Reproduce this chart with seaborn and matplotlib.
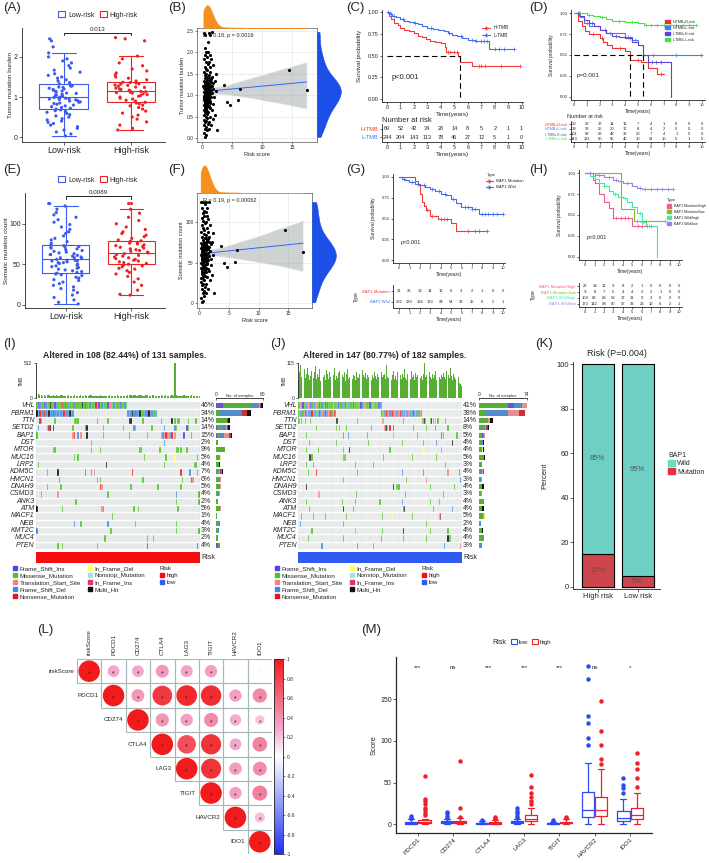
import numpy as np
import pandas as pd
import matplotlib
matplotlib.use('Agg')
import matplotlib.pyplot as plt
import seaborn as sns
from matplotlib.colors import ListedColormap, LinearSegmentedColormap, Normalize
from matplotlib.cm import ScalarMappable
from matplotlib.lines import Line2D
from matplotlib.patches import Patch, Rectangle

sns.set_theme(style='ticks')
plt.rcParams['font.family'] = ['Liberation Sans', 'DejaVu Sans']
plt.rcParams['axes.linewidth'] = 0.6
plt.rcParams['xtick.major.size'] = 2
plt.rcParams['ytick.major.size'] = 2
plt.rcParams['xtick.major.width'] = 0.5
plt.rcParams['ytick.major.width'] = 0.5
plt.rcParams['xtick.major.pad'] = 1
plt.rcParams['ytick.major.pad'] = 1
np.random.seed(3)

# ---------------- data: TMB / mutation count by risk group ----------------
tmb_low = [0.03, 0.08, 0.13, 0.18, 0.22, 0.26, 0.3, 0.34, 0.37, 0.4, 0.43, 0.46, 0.5, 0.53, 0.56, 0.59, 0.62, 0.64, 0.66, 0.68,
           0.7, 0.72, 0.74, 0.76, 0.78, 0.8, 0.82, 0.84, 0.85, 0.87, 0.88, 0.9, 0.91, 0.93, 0.94, 0.95, 0.96, 0.97, 0.98, 0.99,
           1.0, 1.02, 1.04, 1.05, 1.07, 1.09, 1.1, 1.12, 1.14, 1.15, 1.17, 1.19, 1.2, 1.22, 1.24, 1.25, 1.27, 1.28, 1.3, 1.31,
           1.33, 1.36, 1.4, 1.43, 1.47, 1.5, 1.54, 1.58, 1.62, 1.67, 1.72, 1.78, 1.85, 1.9, 1.95, 2.0, 2.1, 2.25, 2.4, 2.45]
tmb_high = [0.18, 0.22, 0.3, 0.38, 0.45, 0.5, 0.55, 0.6, 0.65, 0.7, 0.74, 0.78, 0.8, 0.83, 0.85,
            0.87, 0.9, 0.92, 0.95, 0.97, 1.0, 1.02, 1.04, 1.06, 1.08, 1.1, 1.11, 1.12, 1.13, 1.14,
            1.15, 1.17, 1.19, 1.2, 1.22, 1.24, 1.25, 1.27, 1.29, 1.3, 1.32, 1.33, 1.35, 1.36, 1.37,
            1.4, 1.43, 1.47, 1.5, 1.55, 1.6, 1.65, 1.7, 1.78, 1.85, 1.95, 2.02, 2.4, 2.45, 2.48]
risk_low = [0.45, 0.62, 0.3, 0.85, 0.55, 0.72, 0.4, 0.95, 0.5, 0.68, 0.35, 0.8, 0.58, 0.25, 0.9, 0.65, 0.48, 0.75, 0.38, 0.6,
            0.52, 0.88, 0.42, 0.7, 0.33, 0.78, 0.57, 0.97, 0.46, 0.64, 0.28, 0.82, 0.54, 0.73, 0.4, 0.92, 0.6, 0.5, 0.77, 0.36,
            0.66, 0.44, 0.86, 0.56, 0.3, 0.74, 0.62, 0.94, 0.48, 0.69, 0.38, 0.83, 0.58, 0.22, 0.79, 0.51, 0.67, 0.43, 0.9, 0.61,
            0.34, 0.76, 0.55, 0.88, 0.47, 0.7, 0.26, 0.81, 0.59, 0.41, 0.98, 0.63, 0.37, 0.84, 0.53, 0.71, 0.45, 0.93, 0.57, 0.32]
risk_high = [2.5, 1.2, 1.5, 1.1, 1.8, 1.3, 2.2, 1.05, 1.6, 1.4, 1.15, 4.6, 1.9, 1.25, 4.2,
             1.3, 6.0, 1.1, 1.45, 2.0, 1.2, 1.35, 1.05, 1.6, 1.15, 2.3, 1.25, 1.5, 17.5, 1.8,
             6.3, 1.1, 1.4, 1.2, 1.7, 1.3, 3.6, 1.05, 1.9, 1.15, 1.55, 2.1, 1.25, 1.35, 1.45,
             1.2, 1.6, 1.1, 2.3, 1.4, 14.5, 1.3, 1.8, 1.15, 1.5, 1.25, 1.05, 1.35, 1.1, 1.7]
cnt_low = [1, 3, 6, 9, 12, 15, 18, 20, 22, 24, 26, 28, 30, 31, 33, 34, 36, 37, 38, 39,
           40, 41, 42, 43, 44, 45, 46, 47, 48, 49, 50, 51, 52, 52, 53, 54, 54, 55, 55, 56,
           57, 58, 58, 59, 60, 61, 62, 62, 63, 64, 65, 66, 67, 68, 69, 70, 71, 71, 72, 73,
           74, 76, 78, 80, 82, 85, 88, 90, 93, 96, 99, 102, 105, 108, 111, 114, 118, 122, 125, 125]
cnt_high = [12, 13, 18, 24, 28, 32, 35, 38, 40, 42, 44, 45, 47, 48, 49,
            50, 51, 52, 53, 54, 55, 56, 57, 58, 59, 60, 61, 62, 63, 64,
            65, 66, 67, 68, 69, 70, 71, 72, 73, 74, 75, 76, 77, 78, 79,
            80, 82, 84, 86, 88, 90, 93, 96, 100, 104, 108, 113, 118, 125, 125]

# ---------------- data: survival curves (time, survival, censor times) ----------------
years = list(range(11))
c_h_t = [0, 0.15, 0.3, 0.5, 0.8, 1.0, 1.3, 1.6, 2.0, 2.3, 2.6, 2.9, 3.2, 3.6, 4.0, 4.3, 4.4, 5.3, 5.4, 6.3, 9.9]
c_h_s = [1, 0.96, 0.92, 0.88, 0.85, 0.82, 0.80, 0.78, 0.76, 0.73, 0.71, 0.69, 0.67, 0.66, 0.64, 0.60, 0.54, 0.50, 0.43, 0.38, 0.38]
c_h_c = [4.5, 4.7, 5.0, 5.2, 6.8, 7.0, 7.3, 8.5, 9.9]
c_l_t = [0, 0.2, 0.4, 0.7, 1.0, 1.3, 1.6, 2.0, 2.3, 2.6, 3.0, 3.4, 3.8, 4.2, 4.5, 4.8, 5.2, 5.6, 6.0, 6.5, 7.6, 9.4]
c_l_s = [1, 0.98, 0.96, 0.94, 0.92, 0.9, 0.89, 0.87, 0.86, 0.84, 0.82, 0.81, 0.80, 0.78, 0.76, 0.74, 0.72, 0.70, 0.68, 0.67, 0.58, 0.58]
c_l_c = [0.1, 0.3, 0.5, 1.2, 2.1, 3.3, 4.6, 5.5, 6.3, 6.6, 7.0, 7.2, 7.4, 8.0, 8.3, 8.7, 9.4]
c_table = [[69, 52, 42, 34, 28, 14, 8, 5, 2, 1, 1], [244, 204, 143, 113, 78, 46, 27, 12, 5, 1, 0]]
c_labels = ['H-TMB', 'L-TMB']

d1_t = [0, 0.3, 0.6, 0.9, 1.2, 2.0, 2.3, 2.6, 3.0, 4.0, 4.4, 5.2, 5.8, 6.5, 7.0]
d1_s = [1, 0.9, 0.85, 0.78, 0.75, 0.70, 0.66, 0.62, 0.58, 0.55, 0.44, 0.42, 0.34, 0.27, 0.27]
d1_c = [1.5, 2.2, 3.6, 5.0, 6.8]
d2_t = [0, 0.5, 0.8, 1.2, 2.0, 2.5, 3.0, 4.0, 4.5, 5.0, 5.4, 10.0]
d2_s = [1, 0.95, 0.88, 0.85, 0.80, 0.76, 0.76, 0.72, 0.68, 0.62, 0.50, 0.50]
d2_c = [0.4, 1.0, 2.8, 4.2, 4.8, 6.2, 8.0, 9.9]
d3_t = [0, 0.4, 0.8, 1.2, 1.6, 2.0, 2.5, 3.0, 3.5, 4.0, 4.5, 5.0, 5.4, 5.8, 7.5, 7.6]
d3_s = [1, 0.96, 0.92, 0.88, 0.84, 0.80, 0.76, 0.73, 0.71, 0.70, 0.66, 0.62, 0.50, 0.42, 0.42, 0.0]
d3_c = [0.3, 1.4, 2.4, 3.3, 4.4, 6.1, 6.4, 6.8]
d4_t = [0, 1.0, 1.5, 2.0, 2.5, 3.0, 4.0, 5.0, 5.5, 9.5]
d4_s = [1, 0.98, 0.97, 0.95, 0.93, 0.91, 0.89, 0.88, 0.86, 0.86]
d4_c = [0.5, 1.2, 2.2, 3.5, 4.5, 5.6, 6.0, 6.5, 7.0, 7.5, 8.0, 8.5, 9.0, 9.5]
d_table = [[30, 22, 17, 14, 11, 7, 4, 1, 0, 0, 0], [39, 32, 25, 20, 17, 8, 4, 2, 0, 0, 0],
           [101, 82, 62, 48, 32, 20, 7, 4, 1, 0, 0], [143, 121, 80, 65, 45, 30, 21, 10, 5, 1, 0]]
d_labels = ['H-TMB+H-risk', 'H-TMB+L-risk', 'L-TMB+H-risk', 'L-TMB+L-risk']

g1_t = [0, 1.5, 1.8, 2.0, 2.2, 2.4, 2.6, 3.0, 3.7, 5.0, 5.5, 8.5]
g1_s = [1, 0.95, 0.9, 0.8, 0.7, 0.65, 0.6, 0.53, 0.49, 0.44, 0.35, 0.35]
g1_c = [2.7, 3.2, 4.0, 4.3, 4.6, 6.6, 7.3, 7.7, 8.5]
g2_t = [0, 0.3, 0.6, 1.0, 1.5, 2.0, 2.5, 3.0, 3.5, 4.0, 4.5, 5.0, 5.5, 6.0, 7.0, 7.7, 10.0]
g2_s = [1, 0.98, 0.96, 0.94, 0.92, 0.9, 0.88, 0.86, 0.83, 0.80, 0.78, 0.74, 0.69, 0.64, 0.62, 0.55, 0.55]
g2_c = [0.5, 1.2, 1.8, 2.4, 3.2, 3.8, 4.4, 5.2, 6.3, 6.6, 7.0, 7.3, 8.0, 8.3, 8.6, 9.0, 9.4, 10.0]
g_table = [[31, 26, 19, 14, 12, 6, 3, 2, 1, 0, 0], [282, 230, 166, 133, 94, 54, 32, 15, 6, 2, 1]]
g_labels = ['BAP1 Mutation', 'BAP1 Wild']

h1_t = [0, 0.8, 1.0, 1.5, 2.0, 2.5, 3.0, 5.0, 7.0]
h1_s = [1, 0.92, 0.88, 0.75, 0.65, 0.58, 0.46, 0.37, 0.37]
h1_c = [3.3, 3.8, 4.2, 4.6, 5.6, 6.1, 6.6, 7.0]
h2_t = [0, 3.8, 5.2, 8.5]
h2_s = [1, 0.57, 0.43, 0.43]
h2_c = [5.5, 6.5, 8.5]
h3_t = [0, 0.5, 1.0, 1.5, 2.0, 2.5, 3.0, 3.5, 4.0, 4.5, 5.0, 5.5, 6.0, 6.5, 7.5, 7.6]
h3_s = [1, 0.97, 0.93, 0.88, 0.84, 0.78, 0.75, 0.72, 0.70, 0.65, 0.60, 0.52, 0.42, 0.37, 0.37, 0.0]
h3_c = [2.0, 3.2, 4.2, 5.8, 6.0, 6.2, 6.8]
h4_t = [0, 1.0, 2.0, 3.0, 3.5, 4.0, 5.0, 5.5, 6.0, 9.3]
h4_s = [1, 0.98, 0.95, 0.92, 0.90, 0.88, 0.84, 0.82, 0.81, 0.81]
h4_c = [0.5, 1.5, 2.5, 3.3, 4.5, 5.8, 6.4, 7.0, 7.6, 8.2, 8.8, 9.3]
h_table = [[22, 18, 12, 9, 8, 2, 1, 0, 0, 0, 0], [9, 8, 7, 5, 4, 4, 2, 2, 1, 0, 0],
           [109, 88, 68, 53, 37, 21, 9, 3, 0, 0, 0], [173, 142, 98, 80, 57, 33, 23, 12, 6, 2, 1]]
h_labels = ['BAP1 Mutation/high', 'BAP1 Mutation/low', 'BAP1 Wild/high', 'BAP1 Wild/low']

# ---------------- data: oncoplots ----------------
GENES = ['VHL', 'PBRM1', 'TTN', 'SETD2', 'BAP1', 'DST', 'MTOR', 'MUC16', 'LRP2', 'KDM5C',
         'HMCN1', 'DNAH9', 'CSMD3', 'ANK3', 'ATM', 'MACF1', 'NEB', 'KMT2C', 'MUC4', 'PTEN']
# '.' none, I Frame_Shift_Ins, M Missense, T Translation_Start_Site, F Frame_Shift_Del,
# N Nonsense, D In_Frame_Del, S Nonstop, R In_Frame_Ins, X Multi_Hit
onco_I = [
    "MIFMMIFMMX MMIFMMMNMI MFMMMIMMFM XMIMMFMMMN MIMFMMMIMT MFMMMIMMFM",
    "XFNFFNFFXF FNFFFMFFNF FFXFF..... .......... .......... .......... FMFXFNFFXF MFFNXFFFMF",
    "..NM...... ..M....... .....MMM.. .......... M......M.. .......... .XX....... M......... ..M......X .M.MM..... M....M",
    ".F.....TNX .X........ ....M..... ..FX...... ....M..... .......M.. ....FM.... ......M... ....F..... .FM......I M",
    "M......... .......... ....TN.F.T ...X...... ....M..... .......... .F........ ...M...... ..TFTNFTFN .T.....I.. ..M",
    ".......... .......... .......... ......M... .......... .......... .......... .......... ....F",
    ".......... .MM....... .......... ......M... ..M....... .......... ........MM .......... .M........ ..MM.M...M",
    ".......... .......... .....M.M.. .......... .......... .......... .......... .M........ .....M.... .D........ ......M",
    ".M........ .......... .......... .......... ......X... .......... .......... .......... ....M..... .......... ....MM",
    ".......M.. ....X..... .......... ..R...F.T. .......... .......... ...N...... .......... .......... .....N.... .F....M",
    ".......... .....F.... .......... .......... M.M....... .......... .......... M......... .......... ......M... ..NT",
    ".......M.. ......M... .......... .......... ..NT...... .......... ..M....... .......... M......... .....M",
    "...M...... ....T..... .......... .......... .......M.. .......... .......... .......... .......... ..F....... .......M",
    ".......... .......... ......M... .......... .......... .......... .......... .......... .......... ..M....... .......M",
    "X......... .......M.. .......... .......... ...TF..... .......... ....M..M.. .......... .......... ...M",
    ".......... .......... .......... .......... .......... M",
    ".......... .......... .....F...M .......... .......F.. .......... .....M.... .......... .......... ..M",
    "F......... .......... .......... .......... .........M .......... .......... .......... .......... ..M....... .......M",
    ".......... .......... .......... .......... .....M.... .......... .......... ...M...M",
    ".......... ....M..M.. .......... .......... M......... .......... .......... ...I...... .......... .......... ......I",
]
onco_J = [
    "MFTMIMMFMT MIMMFMTMMI MFMMNMIMFM MTMFMMIMMF MMIMTFMMMI MFMMMMIFMT MMFMIMMTMF MMIFM",
    "MTFFMTNFTF FFNTFFMTFN FTFFNFFTFN MTNF...... .......... .......... .......... ....FMTFFN FTFFNFTMFF TNFFMFTFFT FMFNFTFFMT F",
    "MM.M..M... .M........ .......... ....XX.... .......... ...M...... .......... .....TT... .......... ....M..... .......... .MMXM...MX .M.T.M.... ..M",
    ".......... ......M... .......... ....M..M.. ...M...... .......... .....M.... .......TNX T.N..N.... .......... ...M...... .....M.... ...F...... ....M",
    ".......M.. .......... .......... .......... F....F.... .......... ..M....... .......... .....T.... .......... .......M.. .......... ........I. M......... ..M",
    ".......... M......... .......... ....M..... .......... .......... ...M...... .......... .......... ...M...... .......... ..M....... ....F..... ........X",
    ".......M.. ........M. .......... .......... M.....X... .......... .......... .......... ..M....... .......... .......... .D........ ........M",
    ".......... XXM....... .......... .......... MMM....... .......... .......... ......M... .......... .......... ..M....... .......... ....M",
    ".......M.. ...M...... .......... .......... .......... .M........ .......M.. .......... .......... .......... .......... .......... .......... ..M",
    ".........M ......N... .......... .......... .......... ...M...... .......... .......... .......... ...F...... .......... ..F....... .......... ....T..... ....F",
    ".......... .......... .......... .......... M......... .......... .......... .......... .......... ......DM.. .......... .....T.... .......... .......... .....F",
    ".......X.. .......... .......... .......... .......... .......... .......... .......... .....X..MM M......... .......... ........M. .......... .......... M",
    ".......... ........TT .......... .......... .......... ..M....... .......... .......... .......... ......M... .......... .......... .......... M",
    ".......M.. .......... .......... .........M .......... .M........ .......... ...M...... .......... ...F...... .......... ........M. ......M",
    ".......... M......... .......... .......... X........M .......... .......... .......... .......... ....FX.... .......... .......... .M........ ........F",
    "...M...... ...M...... ....M..... .......... ...M...... .......... .......... .....M.... ....D..... .......... ..M....... .......... ......TN",
    "..F....... .......... .......... .......... M......... .......... .......... .......... .......... .......... .......... .....M",
    ".......... ..M....... .......... .......... .......... .T........ .......... .....M.... .......... ....X..... .......... ........M. .......... ....M",
    ".........M .......... .......... .......... M......... .......... .......... ....M..... .......... ....M..... .......... .....M.... .......... ....XMM",
    ".......... .......... .F........ .......... .......... ...F...... .......M.. .......... .......... .......... .......... .......... .......... .F........ .....T",
]
pct_I = ['46%', '34%', '14%', '14%', '15%', '2%', '9%', '5%', '4%', '7%', '6%', '5%', '4%', '2%', '5%', '1%', '4%', '3%', '2%', '4%']
pct_J = ['41%', '38%', '14%', '8%', '5%', '4%', '4%', '5%', '3%', '4%', '3%', '4%', '3%', '4%', '4%', '5%', '2%', '4%', '4%', '3%']
tmb_I = [80, 65, 45, 40, 35, 50, 30, 42, 38, 36, 33, 40, 28, 45, 35, 30, 38, 42, 36, 30,
         34, 38, 32, 36, 30, 40, 35, 28, 33, 38, 30, 36, 42, 34, 30, 38, 45, 33, 36, 30,
         28, 34, 38, 30, 36, 32, 28, 35, 40, 30, 33, 36, 30, 38, 34, 28, 32, 36, 30, 35,
         40, 45, 38, 36, 42, 40, 35, 38, 44, 40, 36, 34, 38, 42, 36, 32, 40, 38, 34, 36,
         30, 34, 38, 32, 36, 40, 34, 30, 36, 38, 32, 512, 38, 34, 30, 36, 32, 40, 36, 34,
         30, 36, 38, 32, 34, 36, 30, 28]
tmb_J = [60, 85, 110, 70, 55, 95, 65, 80, 100, 75, 58, 72, 90, 66, 84, 105, 62, 78, 70, 96,
         55, 88, 68, 74, 60, 92, 80, 64, 86, 70, 62, 76, 98, 58, 72, 66, 82, 90, 60, 74,
         68, 84, 56, 78, 94, 64, 70, 88, 62, 76, 72, 60, 86, 70, 66, 80, 58, 92, 74, 68,
         82, 64, 76, 70, 88, 60, 74, 66, 84, 72, 62, 78, 70, 56, 86, 68, 74, 80, 64, 110,
         70, 66, 82, 60, 76, 90, 64, 72, 58, 84, 68, 74, 62, 80, 70, 96, 66, 58, 78, 72,
         64, 88, 70, 76, 60, 82, 68, 74, 92, 66, 72, 60, 80, 115, 68, 76, 64, 86, 70, 62,
         78, 66, 74, 90, 60, 84, 70, 64, 76, 68, 82, 70, 62, 88, 74, 66, 100, 72, 60, 78,
         70, 64, 58, 68, 50, 45, 40]

# ---------------- data: BAP1 by risk ----------------
k_groups = ['High risk', 'Low risk']
k_mut = [15, 5]
k_wild = [85, 95]

# ---------------- data: correlation (upper triangle) ----------------
l_genes = ['riskScore', 'PDCD1', 'CD274', 'CTLA4', 'LAG3', 'TIGIT', 'HAVCR2', 'IDO1']
l_corr = [[1.00, 0.30, 0.30, 0.36, 0.31, 0.33, 0.02, 0.03],
          [1.00, 0.36, 0.84, 0.92, 0.90, 0.33, 0.44],
          [1.00, 0.38, 0.33, 0.43, 0.28, 0.19],
          [1.00, 0.74, 0.88, 0.30, 0.47],
          [1.00, 0.87, 0.34, 0.42],
          [1.00, 0.33, 0.49],
          [1.00, 0.22],
          [1.00]]
l_sig = [[1, 1, 1, 1, 1, 1, 0, 0], [1] * 7, [1] * 6, [1] * 5, [1] * 4, [1] * 3, [1] * 2, [1]]

# ---------------- data: checkpoint scores ----------------
m_genes = ['PDCD1', 'CD274', 'CTLA4', 'LAG3', 'TIGIT', 'HAVCR2', 'IDO1']
m_sig = ['***', 'ns', '***', '***', '***', 'ns', '*']
m_low = {
    'PDCD1': [0, 0, 0, 0, 0, 0, 0, 0.5, 0.5, 1, 1, 1, 1, 1, 1, 1.5, 1.5, 2, 2, 2, 2, 2.5, 3, 3, 4, 5, 6, 7, 8, 10],
    'CD274': [0, 0.5, 1, 1, 1, 1, 1.5, 1.5, 2, 2, 2, 2, 2, 2, 2.5, 2.5, 3, 3, 3, 3, 3, 3.5, 4, 4, 5, 6, 8, 10, 13, 15],
    'CTLA4': [0, 0, 0, 0, 0, 0, 0, 0, 0, 0.5, 0.5, 0.5, 0.5, 0.5, 1, 1, 1, 1, 1, 1, 1, 1.5, 1.5, 2, 2, 2.5, 3, 3.5, 4, 4.5],
    'LAG3': [0, 0.5, 0.5, 1, 1, 1, 1, 1.5, 1.5, 2, 2, 2, 2, 2, 2.5, 2.5, 3, 3, 3, 3, 3.5, 4, 4, 5, 6, 8, 10, 13, 16, 20],
    'TIGIT': [0, 0, 0, 0, 0, 0, 0, 0, 0.5, 0.5, 0.5, 0.5, 0.5, 0.5, 1, 1, 1, 1, 1, 1, 1, 1, 1.5, 1.5, 2, 2, 2.5, 3, 4, 5],
    'HAVCR2': [0, 1, 2, 3, 4, 5, 5, 6, 6, 7, 8, 9, 10, 11, 12, 13, 14, 15, 16, 17, 17, 18, 20, 22, 24, 26, 28, 30, 32, 33,
               36, 40, 45, 52, 63, 74, 95, 103, 122, 130, 174, 190],
    'IDO1': [0, 0, 1, 1, 2, 2, 2, 3, 3, 3, 4, 4, 5, 5, 6, 6, 7, 7, 8, 8, 8, 9, 10, 11, 12, 13, 14, 15, 16, 16,
             17, 18, 20, 23, 27, 30, 38, 43, 47, 55],
}
m_high = {
    'PDCD1': [0, 0, 0, 0.5, 0.5, 1, 1, 1, 1, 1.5, 1.5, 2, 2, 2, 2, 2.5, 2.5, 3, 3, 3, 3, 3.5, 3.5, 4, 4, 4, 4.5, 5, 5, 5,
              5.5, 6, 11, 14, 17, 20, 24, 28, 30, 58],
    'CD274': [0, 0.5, 1, 1, 1, 1, 1.5, 1.5, 2, 2, 2, 2, 2, 2, 2.5, 2.5, 3, 3, 3, 3, 3, 3.5, 4, 4, 5, 6, 7, 9, 19, 76],
    'CTLA4': [0, 0, 0, 0, 0, 0.5, 0.5, 0.5, 1, 1, 1, 1, 1, 1, 1.5, 1.5, 1.5, 2, 2, 2, 2, 2.5, 2.5, 3, 3.5, 4, 5, 6, 7, 9],
    'LAG3': [0, 1, 1, 1.5, 2, 2, 2.5, 3, 3, 3, 3.5, 4, 4, 4, 4.5, 5, 5, 5.5, 6, 6, 6.5, 7, 7, 7.5, 8, 8, 8.5, 9, 10, 11,
             12, 14, 16, 20, 24, 28, 33, 37, 45, 59],
    'TIGIT': [0, 0, 0, 0.5, 0.5, 0.5, 1, 1, 1, 1, 1, 1.5, 1.5, 1.5, 2, 2, 2, 2, 2.5, 2.5, 3, 3, 3, 3.5, 4, 4.5, 5, 6, 8, 9],
    'HAVCR2': [0, 2, 4, 5, 6, 7, 8, 8, 9, 9, 9, 10, 11, 12, 13, 14, 15, 16, 16, 17, 17, 18, 19, 20, 21, 23, 25, 27, 28, 29,
               30, 33, 38, 45, 55, 62, 66, 72, 78, 95, 112, 148],
    'IDO1': [0, 1, 2, 3, 3, 4, 4, 5, 5, 5, 6, 6, 7, 8, 8, 9, 9, 10, 10, 10, 11, 12, 13, 14, 15, 16, 17, 18, 19, 19,
             20, 22, 25, 28, 33, 38, 45, 55, 66, 73, 85],
}

# ---------------- helpers ----------------
W, H = 709, 863
fig = plt.figure(figsize=(W / 100, H / 100), dpi=100)
fig.patch.set_facecolor('white')


def pax(x0, y0, x1, y1):
    return fig.add_axes([x0 / W, 1 - y1 / H, (x1 - x0) / W, (y1 - y0) / H])


def ftxt(x, y, s, **kw):
    kw.setdefault('ha', 'left')
    kw.setdefault('va', 'center')
    fig.text(x / W, 1 - y / H, s, **kw)


BLUE = '#3A5CF2'
RED = '#EE2222'
ORANGE = '#F5901E'
DBLUE = '#1C4FE8'

for lab, x, y in [('(A)', 3, 8), ('(B)', 168, 8), ('(C)', 346, 8), ('(D)', 529, 8),
                  ('(E)', 3, 170), ('(F)', 168, 170), ('(G)', 346, 170), ('(H)', 529, 170),
                  ('(I)', 3, 344), ('(J)', 270, 344), ('(K)', 535, 344), ('(L)', 37, 630), ('(M)', 361, 630)]:
    ftxt(x, y, lab, fontsize=9.5)


def box_panel(box, low, high, ylim, yticks, ylabel, pval, by, leg_y):
    ax = pax(*box)
    df = pd.DataFrame({'grp': ['Low-risk'] * len(low) + ['High-risk'] * len(high), 'val': low + high})
    pal = {'Low-risk': BLUE, 'High-risk': RED}
    sns.boxplot(data=df, x='grp', y='val', hue='grp', palette=pal, fill=False, showfliers=False,
                width=0.72, linewidth=0.8, legend=False, ax=ax)
    sns.stripplot(data=df, x='grp', y='val', hue='grp', palette=pal, size=2.3, jitter=0.26,
                  legend=False, ax=ax, zorder=3)
    ax.set_xlim(-0.62, 1.51)
    ax.set_ylim(*ylim)
    ax.set_yticks(yticks)
    ax.set_xlabel('')
    ax.set_ylabel(ylabel, fontsize=4.6, labelpad=0.5)
    ax.tick_params(axis='x', labelsize=6.5, length=2)
    ax.tick_params(axis='y', labelsize=5, length=2)
    sns.despine(ax=ax)
    h = (ylim[1] - ylim[0]) * 0.02
    ax.plot([0, 0, 1, 1], [by - h, by, by, by - h], color='black', lw=0.6, clip_on=False)
    ax.text(0.5, by + h * 0.4, pval, ha='center', va='bottom', fontsize=4.5)
    handles = [Patch(facecolor='white', edgecolor=BLUE, lw=0.8, label='Low-risk'),
               Patch(facecolor='white', edgecolor=RED, lw=0.8, label='High-risk')]
    fig.legend(handles=handles, ncol=2, loc='center', bbox_to_anchor=(98 / W, 1 - leg_y / H),
               frameon=False, fontsize=5, handlelength=1.0, handleheight=0.9, handletextpad=0.4,
               columnspacing=0.8)


def scatter_panel(box, top_y, right_x, xs, ys, xlim, ylim, yticks, ylabel, stat):
    ax = pax(*box)
    sns.regplot(x=xs, y=ys, scatter=False, ci=95, color='#3366FF', line_kws={'lw': 0.7}, truncate=True, ax=ax)
    for coll in ax.collections:
        coll.set_facecolor('#9EA6A6')
        coll.set_alpha(0.5)
    sns.scatterplot(x=xs, y=ys, color='black', s=5, linewidth=0, ax=ax, zorder=3)
    ax.set_xlim(*xlim)
    ax.set_ylim(*ylim)
    ax.set_xticks([0, 5, 10, 15])
    ax.set_yticks(yticks)
    ax.grid(True, color='#E6E6E6', lw=0.5)
    ax.set_axisbelow(True)
    for sp in ax.spines.values():
        sp.set_color('#555555')
        sp.set_linewidth(0.5)
    ax.tick_params(labelsize=3.5, length=1.5, width=0.4)
    ax.set_xlabel('Risk score', fontsize=4, labelpad=1)
    ax.set_ylabel(ylabel, fontsize=4, labelpad=1)
    ax.text(0.05, 0.96, stat, transform=ax.transAxes, fontsize=4, va='top')
    axt = pax(box[0], top_y, box[2], box[1])
    sns.kdeplot(x=xs, fill=True, color=ORANGE, alpha=1, lw=0.4, cut=0, ax=axt)
    axt.set_xlim(*xlim)
    axt.axis('off')
    axr = pax(box[2], box[1], right_x, box[3])
    sns.kdeplot(y=ys, fill=True, color=DBLUE, alpha=1, lw=0.4, cut=0, ax=axr)
    axr.set_ylim(*ylim)
    axr.axis('off')


def km_panel(box, curves, xlim, ylim, fs, lab_fs):
    ax = pax(*box)
    for t, s, cens, col in curves:
        sns.lineplot(x=t, y=s, drawstyle='steps-post', color=col, lw=0.8, estimator=None, sort=False, ax=ax)
        idx = np.searchsorted(t, cens, side='right') - 1
        sns.scatterplot(x=cens, y=np.array(s)[idx], marker='+', color=col, s=6, linewidth=0.5, ax=ax, zorder=3)
    ax.set_xlim(*xlim)
    ax.set_ylim(*ylim)
    ax.set_xticks(years)
    ax.set_yticks([0, 0.25, 0.5, 0.75, 1.0])
    ax.set_yticklabels(['0.00', '0.25', '0.50', '0.75', '1.00'])
    ax.tick_params(labelsize=fs, length=1.5)
    ax.set_xlabel('Time(years)', fontsize=lab_fs, labelpad=1)
    ax.set_ylabel('Survival probability', fontsize=lab_fs, labelpad=4)
    sns.despine(ax=ax)
    return ax


def risk_table(box, counts, labels, colors, xlim, fs, lab_fs, ylabel=None):
    ax = pax(*box)
    n = len(counts)
    for i, row in enumerate(counts):
        for yr, v in zip(years, row):
            ax.text(yr, n - 1 - i, str(v), ha='center', va='center', fontsize=fs)
    ax.set_xlim(*xlim)
    ax.set_ylim(-0.6, n - 0.4)
    ax.set_yticks(range(n))
    ax.set_yticklabels(labels[::-1], fontsize=lab_fs)
    for tl, c in zip(ax.get_yticklabels(), colors[::-1]):
        tl.set_color(c)
    ax.set_xticks(years)
    ax.tick_params(axis='x', labelsize=fs, length=1.5)
    ax.tick_params(axis='y', length=1.5)
    ax.set_xlabel('Time(years)', fontsize=fs + 0.5, labelpad=1)
    if ylabel:
        ax.set_ylabel(ylabel, fontsize=fs + 0.5, labelpad=2)
    sns.despine(ax=ax)
    return ax


# ---------------- A / E ----------------
box_panel((22, 28, 165, 142), tmb_low, tmb_high, (-0.12, 2.72), [0, 1, 2], 'Tumor mutation burden', '0.013', 2.6, 15)
box_panel((25, 193, 165, 308), cnt_low, cnt_high, (-4, 138), [0, 50, 100], 'Somatic mutation count', '0.0089', 134, 180)

# ---------------- B / F ----------------
scatter_panel((197, 28, 317, 142), 4, 342, risk_low + risk_high, tmb_low + tmb_high, (-0.85, 19.2), (-0.09, 2.57),
              [0, 0.5, 1.0, 1.5, 2.0, 2.5], 'Tumor mutation burden', 'R = 0.18, p = 0.0016')
scatter_panel((197, 193, 312, 308), 164, 337, risk_low + risk_high, cnt_low + cnt_high, (-0.4, 19.0), (-6, 136),
              [0, 50, 100], 'Somatic mutation count', 'R = 0.19, p = 0.00062')

# ---------------- C ----------------
CR, CB = '#F03C3C', '#3D6FF0'
ax = km_panel((382, 10, 523, 102), [(c_h_t, c_h_s, c_h_c, CR), (c_l_t, c_l_s, c_l_c, CB)],
              (-0.37, 10.1), (-0.035, 1.025), 4, 4.5)
ax.plot([0, 5.4], [0.5, 0.5], color='black', lw=0.8, dashes=(5, 3))
ax.plot([5.4, 5.4], [0.5, 0], color='black', lw=0.8, dashes=(5, 3))
ax.text(0.3, 0.25, 'p<0.001', fontsize=5.5, va='center')
ax.legend(handles=[Line2D([], [], color=CR, marker='+', lw=0.8, ms=3, label='H-TMB'),
                   Line2D([], [], color=CB, marker='+', lw=0.8, ms=3, label='L-TMB')],
          loc='upper left', bbox_to_anchor=(0.68, 0.88), frameon=False, fontsize=3.5, handlelength=1.5)
ftxt(382, 120, 'Number at risk', fontsize=5.5)
risk_table((382, 124, 523, 142), c_table, c_labels, [CR, CB], (-0.37, 10.1), 4, 4)

# ---------------- D ----------------
DC = ['#F53030', '#3D7DF5', '#5B44D6', '#3CE63C']
ax = km_panel((571, 10, 705, 100), [(d1_t, d1_s, d1_c, DC[0]), (d2_t, d2_s, d2_c, DC[1]),
                                     (d3_t, d3_s, d3_c, DC[2]), (d4_t, d4_s, d4_c, DC[3])],
              (-0.23, 10.23), (-0.036, 1.036), 3, 3.5)
ax.plot([0, 5.4], [0.5, 0.5], color='black', lw=0.8, dashes=(5, 3))
for xv in [4.4, 5.4]:
    ax.plot([xv, xv], [0.5, 0], color='black', lw=0.8, dashes=(5, 3))
ax.text(0.2, 0.25, 'p=0.001', fontsize=4.5, va='center')
ax.legend(handles=[Patch(color=c, label=l) for c, l in zip(DC, d_labels)], loc='upper left',
          bbox_to_anchor=(0.68, 0.93), frameon=False, fontsize=2.6, handlelength=1.2, handleheight=1.0,
          labelspacing=0.6)
ftxt(567, 117, 'Number at risk', fontsize=4)
risk_table((571, 121, 705, 142), d_table, d_labels, DC, (-0.23, 10.23), 3, 2.6)

# ---------------- G ----------------
ax = km_panel((393, 174, 505, 263), [(g1_t, g1_s, g1_c, CR), (g2_t, g2_s, g2_c, CB)],
              (-0.58, 10.19), (-0.036, 1.036), 3, 3.5)
ax.text(0.2, 0.21, 'p<0.001', fontsize=4, va='center')
ax.legend(handles=[Line2D([], [], color=CR, marker='+', lw=0.8, ms=3, label='BAP1 Mutation'),
                   Line2D([], [], color=CB, marker='+', lw=0.8, ms=3, label='BAP1 Wild')],
          title='Type', title_fontsize=3, loc='upper left', bbox_to_anchor=(0.8, 1.05), frameon=False,
          fontsize=3, handlelength=1.5, alignment='left')
risk_table((393, 285, 505, 308), g_table, g_labels, [CR, CB], (-0.58, 10.19), 3, 3, ylabel='Type')

# ---------------- H ----------------
HC = ['#F55A8C', '#7CC41A', '#3DE8A8', '#A07CF2']
ax = km_panel((579, 170, 682, 260), [(h1_t, h1_s, h1_c, HC[0]), (h2_t, h2_s, h2_c, HC[1]),
                                     (h3_t, h3_s, h3_c, HC[2]), (h4_t, h4_s, h4_c, HC[3])],
              (-0.65, 10.3), (-0.036, 1.036), 3, 3.5)
ax.text(0.2, 0.23, 'p<0.001', fontsize=4, va='center')
ax.legend(handles=[Patch(color=c, label=l) for c, l in zip(HC, h_labels)], title='Type', title_fontsize=3,
          loc='upper left', bbox_to_anchor=(0.82, 0.72), frameon=False, fontsize=2.6, handlelength=1.2,
          handleheight=1.0, labelspacing=0.5, alignment='left')
risk_table((579, 283, 682, 307), h_table, h_labels, HC, (-0.65, 10.3), 3, 3, ylabel='Type')

# ---------------- I / J oncoplots ----------------
MUT_CODES = '.IMTFNDSRX'
MUT_NAMES = ['Frame_Shift_Ins', 'Missense_Mutation', 'Translation_Start_Site', 'Frame_Shift_Del',
             'Nonsense_Mutation', 'In_Frame_Del', 'Nonstop_Mutation', 'In_Frame_Ins', 'Multi_Hit']
MUT_COLORS = ['#E3E6E6', '#5A3DEB', '#4DC41F', '#F4837D', '#3D8BE0', '#E8141B', '#FFFF66', '#9FE4EB',
              '#E0336E', '#111111']
RISK_RED, RISK_BLUE = '#F5100F', '#2F5BF0'


def oncoplot(mx0, mx1, bx0, bx1, rows_raw, n, pcts, tmb, tmb_max, bar_max, title, title_x,
             risk_col, order, legx):
    rows = [r.replace(' ', '').ljust(n, '.')[:n] for r in rows_raw]
    codes = np.array([[MUT_CODES.index(c) for c in r] for r in rows])
    ftxt(title_x, 355, title, ha='center', fontsize=6.3, fontweight='bold')
    axt = pax(mx0, 363, mx1, 398)
    sns.barplot(x=np.arange(n), y=tmb, color=MUT_COLORS[2], width=0.8, native_scale=True, linewidth=0, ax=axt)
    axt.set_xlim(-0.5, n - 0.5)
    axt.set_ylim(0, tmb_max)
    axt.set_yticks([0, tmb_max])
    axt.set_xticks([])
    axt.tick_params(labelsize=3.5, length=1.5)
    axt.set_ylabel('TMB', fontsize=3.5, labelpad=0)
    sns.despine(ax=axt, bottom=True)
    axm = pax(mx0, 402, mx1, 549)
    sns.heatmap(codes, cmap=ListedColormap(MUT_COLORS), vmin=-0.5, vmax=9.5, cbar=False, ax=axm,
                xticklabels=False, yticklabels=False)
    axm.hlines(np.arange(1, 20), 0, n, color='white', lw=1.0)
    axm.vlines(np.arange(1, n), 0, 20, color='white', lw=0.2)
    for i, g in enumerate(GENES):
        axm.text(-1, i + 0.5, g, ha='right', va='center', fontsize=5, style='italic')
        axm.text(n + 0.5, i + 0.5, pcts[i], ha='left', va='center', fontsize=5)
    counts = np.array([[r.count(c) for c in MUT_CODES[1:]] for r in rows])
    cum = np.cumsum(counts[:, order], axis=1)
    axb = pax(bx0, 398, bx1, 549)
    for k in range(len(order) - 1, -1, -1):
        sns.barplot(x=cum[:, k], y=GENES, color=MUT_COLORS[1 + order[k]], orient='h', width=0.7,
                    linewidth=0, ax=axb)
    axb.set_xlim(0, bar_max)
    axb.set_ylim(19.5, -0.5 - 0.55)
    axb.xaxis.tick_top()
    axb.set_xticks([0, bar_max])
    axb.set_yticks([])
    axb.set_ylabel('')
    axb.tick_params(axis='x', labelsize=3.5, length=1.5, direction='in', pad=1)
    axb.xaxis.set_label_position('top')
    axb.set_xlabel('No. of samples', fontsize=3, labelpad=-4)
    for s in ['left', 'right', 'bottom']:
        axb.spines[s].set_visible(False)
    axr = pax(mx0, 552, mx1, 563)
    sns.heatmap(np.zeros((1, n)), cmap=ListedColormap([risk_col]), cbar=False, ax=axr,
                xticklabels=False, yticklabels=False)
    axr.text(n + 1, 0.5, 'Risk', fontsize=5, va='center')
    h1 = [Line2D([], [], marker='s', ls='', color=MUT_COLORS[i + 1], markersize=2.5, label=MUT_NAMES[i])
          for i in range(9)]
    fig.legend(handles=h1, ncol=2, loc='upper left', bbox_to_anchor=(legx / W, 1 - 566 / H), frameon=False,
               fontsize=4.5, handlelength=0.8, handletextpad=0.4, columnspacing=1.0, labelspacing=0.25,
               borderaxespad=0, borderpad=0)
    h2 = [Line2D([], [], marker='s', ls='', color=RISK_RED, markersize=2.5, label='high'),
          Line2D([], [], marker='s', ls='', color=RISK_BLUE, markersize=2.5, label='low')]
    fig.legend(handles=h2, title='Risk', title_fontsize=4.5, loc='upper left',
               bbox_to_anchor=((legx + 147) / W, 1 - 566 / H), frameon=False, fontsize=4.5, handlelength=0.8,
               handletextpad=0.4, labelspacing=0.25, borderaxespad=0, borderpad=0, alignment='left')


oncoplot(36, 200, 216, 263, onco_I, 108, pct_I, tmb_I, 512, 60,
         'Altered in 108 (82.44%) of 131 samples.', 125, RISK_RED, [0, 1, 3, 2, 4, 5, 6, 7, 8], 12)
oncoplot(298, 462, 479, 527, onco_J, 147, pct_J, tmb_J, 115, 74,
         'Altered in 147 (80.77%) of 182 samples.', 385, RISK_BLUE, [1, 0, 3, 2, 4, 5, 6, 7, 8], 274)

# ---------------- K ----------------
TEAL, MRED = '#5CE1CF', '#E3303A'
ax = pax(573, 362, 660, 589)
k_total = [m + w for m, w in zip(k_mut, k_wild)]
sns.barplot(x=k_groups, y=k_total, color=TEAL, edgecolor='black', linewidth=0.8, width=0.8, ax=ax)
sns.barplot(x=k_groups, y=k_mut, color=MRED, edgecolor='black', linewidth=0.8, width=0.8, ax=ax)
for i in range(2):
    ax.text(i, k_mut[i] / 2, f'{k_mut[i]}%', ha='center', va='center', fontsize=5.5, color='#555555')
    ax.text(i, k_mut[i] + k_wild[i] / 2, f'{k_wild[i]}%', ha='center', va='center', fontsize=5.5, color='#555555')
ax.set_xlim(-0.62, 1.56)
ax.set_ylim(-0.9, 100.9)
ax.set_yticks([0, 20, 40, 60, 80, 100])
ax.tick_params(labelsize=5.5, length=2)
ax.set_ylabel('Percent', fontsize=5.5, labelpad=6)
ax.set_xlabel('')
ax.set_title('Risk (P=0.004)', fontsize=6.5, pad=4)
sns.despine(ax=ax)
ax.legend(handles=[Patch(color=TEAL, label='Wild'), Patch(color=MRED, label='Mutation')], title='BAP1',
          title_fontsize=5, fontsize=5, loc='upper left', bbox_to_anchor=(1.02, 0.63), frameon=False,
          handlelength=1.0, handleheight=1.0, handletextpad=0.3, labelspacing=0.1, alignment='left')

# ---------------- L ----------------
cmap_l = LinearSegmentedColormap.from_list('corr', [(0, '#1F2FF0'), (0.5, '#FFFFFF'), (0.65, '#F2A6CB'),
                                                     (1, '#F21A1A')])
ax = pax(77, 659, 272, 854)
rows_l, cols_l, vals_l, sig_x, sig_y = [], [], [], [], []
for i, row in enumerate(l_corr):
    for k, v in enumerate(row):
        j = i + k
        rows_l.append(i + 0.5)
        cols_l.append(j + 0.5)
        vals_l.append(v)
        ax.add_patch(Rectangle((j, i), 1, 1, fill=False, ec='#A8B8B8', lw=0.8))
        if l_sig[i][k]:
            sig_x.append(j + 0.5)
            sig_y.append(i + 0.5)
sns.scatterplot(x=cols_l, y=rows_l, hue=vals_l, size=np.abs(vals_l), sizes=(0, 240), size_norm=(0, 1),
                hue_norm=(-1, 1), palette=cmap_l, linewidth=0, legend=False, ax=ax)
for x, y in zip(sig_x, sig_y):
    ax.text(x, y + 0.12, '*', ha='center', va='center', fontsize=5)
ax.set_xlim(0, 8)
ax.set_ylim(8, 0)
ax.axis('off')
for j, g in enumerate(l_genes):
    ax.text(j + 0.5, -0.15, g, rotation=90, ha='center', va='bottom', fontsize=4.5)
    ax.text(j - 0.12, j + 0.5, g, ha='right', va='center', fontsize=4.5)
cax = pax(274, 659, 283, 854)
cb = fig.colorbar(ScalarMappable(norm=Normalize(-1, 1), cmap=cmap_l), cax=cax)
cb.set_ticks(np.round(np.arange(-1, 1.01, 0.2), 1))
cb.set_ticklabels(['-1', '-0.8', '-0.6', '-0.4', '-0.2', '0', '0.2', '0.4', '0.6', '0.8', '1'])
cb.ax.tick_params(labelsize=3.5, length=1.5, width=0.4)
cb.outline.set_linewidth(0.6)

# ---------------- M ----------------
recs = []
for g in m_genes:
    recs += [(g, 'low', v) for v in m_low[g]]
    recs += [(g, 'high', v) for v in m_high[g]]
dfm = pd.DataFrame(recs, columns=['gene', 'risk', 'score'])
MB, MR = '#2A4BF5', '#F0202A'
ax = pax(396, 657, 652, 833)
sns.boxplot(data=dfm, x='gene', y='score', hue='risk', hue_order=['low', 'high'], palette={'low': MB, 'high': MR},
            fill=False, width=0.75, gap=0.08, linewidth=0.9, legend=False,
            flierprops={'marker': 'o', 'markersize': 2.2}, ax=ax)
for ln in ax.lines:
    if ln.get_marker() == 'o':
        ln.set_markerfacecolor(ln.get_markeredgecolor())
for i, s in enumerate(m_sig):
    ax.text(i, 188, s, ha='center', va='center', fontsize=4.5)
ax.set_xlim(-0.62, 6.62)
ax.set_ylim(-10.6, 200.7)
ax.set_yticks([0, 50, 100, 150])
ax.set_xlabel('')
ax.set_ylabel('Score', fontsize=5.5, labelpad=2)
ax.tick_params(axis='y', labelsize=5, length=2)
ax.tick_params(axis='x', labelsize=4.6, length=2)
plt.setp(ax.get_xticklabels(), rotation=45, ha='right', rotation_mode='anchor')
sns.despine(ax=ax)
for sp in ['left', 'bottom']:
    ax.spines[sp].set_linewidth(0.9)
ftxt(492, 642, 'Risk', fontsize=5)
fig.legend(handles=[Patch(facecolor='white', edgecolor=MB, lw=0.8, label='low'),
                    Patch(facecolor='white', edgecolor=MR, lw=0.8, label='high')],
           ncol=2, loc='center left', bbox_to_anchor=(505 / W, 1 - 642 / H), frameon=False, fontsize=4.5,
           handlelength=1.0, handleheight=0.9, handletextpad=0.3, columnspacing=0.6)

fig.savefig('out.png', dpi=100, facecolor='white')
